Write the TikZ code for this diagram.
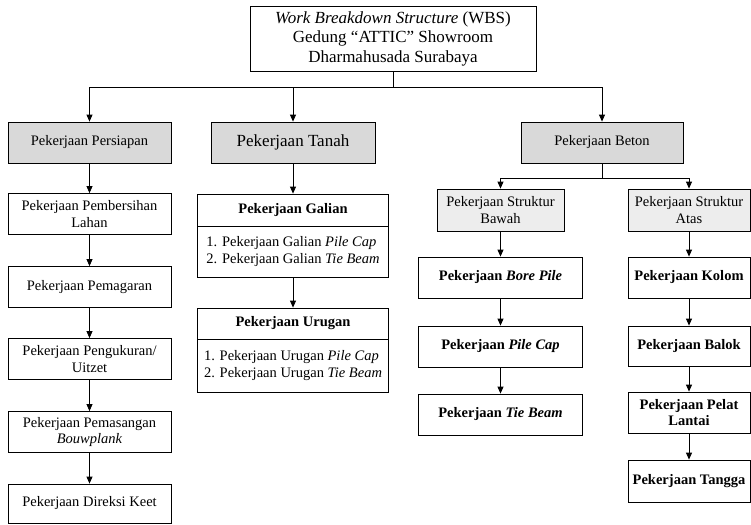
\documentclass[tikz,border=0pt]{standalone}
\usepackage{fontspec}
\setmainfont{Liberation Serif}
\usepackage{tikz}
\usetikzlibrary{positioning,arrows.meta}
\definecolor{headgray}{HTML}{D9D9D9}
\definecolor{subgray}{HTML}{EDEDED}

\begin{document}
\begin{tikzpicture}[font=\fontsize{14.5}{16.7}\selectfont]
    \tikzstyle{box}=[draw, line width=0.8pt, align=center, inner sep=2pt, minimum height=41pt, on grid]
    \tikzstyle{head}=[box, fill=headgray, minimum width=163pt]
    \tikzstyle{struk}=[box, fill=subgray, minimum width=127pt, minimum height=42pt]
    \tikzstyle{task}=[box, minimum width=163pt]
    \tikzstyle{work}=[box, font=\fontsize{14.5}{16.7}\selectfont\bfseries]
    \tikzstyle{arr}=[line width=0.8pt, -{Triangle[length=7pt,width=6pt]}]
    \useasboundingbox (0,0) rectangle (751pt,-524pt);

    \node[box, minimum width=286pt, minimum height=65pt, font=\fontsize{17}{19.5}\selectfont] (wbs) at (393pt,-38.5pt)
        {\textit{Work Breakdown Structure} (WBS)\\Gedung “ATTIC” Showroom\\Dharmahusada Surabaya};

    \node[head] (persiapan) at (89.5pt,-142.5pt) {Pekerjaan Persiapan};
    \node[head, minimum width=164pt, right=203.5pt of persiapan, font=\fontsize{17}{20}\selectfont] (tanah) {Pekerjaan Tanah};
    \node[head, minimum width=162pt, right=309pt of tanah] (beton) {Pekerjaan Beton};

    % persiapan
    \node[task, below=71.5pt of persiapan] (pembersihan) {Pekerjaan Pembersihan\\Lahan};
    \node[task, below=73pt of pembersihan] (pemagaran) {Pekerjaan Pemagaran};
    \node[task, below=72pt of pemagaran] (pengukuran) {Pekerjaan Pengukuran/\\Uitzet};
    \node[task, below=73pt of pengukuran] (bouwplank) {Pekerjaan Pemasangan\\\textit{Bouwplank}};
    \node[task, below=71.5pt of bouwplank, minimum height=39pt] (direksi) {Pekerjaan Direksi Keet};

    % tanah
    \node[work, minimum width=191pt, minimum height=32pt, below=67.5pt of tanah] (galian) {Pekerjaan Galian};
    \node[box, minimum width=191pt, minimum height=51pt, below=41.5pt of galian, align=left] (galianlist)
        {1. Pekerjaan Galian \textit{Pile Cap}\\2. Pekerjaan Galian \textit{Tie Beam}};
    \node[work, minimum width=191pt, minimum height=31pt, below=72pt of galianlist] (urugan) {Pekerjaan Urugan};
    \node[box, minimum width=191pt, minimum height=53pt, below=42pt of urugan, align=left] (uruganlist)
        {1. Pekerjaan Urugan \textit{Pile Cap}\\2. Pekerjaan Urugan \textit{Tie Beam}};

    % beton
    \node[struk, below left=67.5pt and 101.5pt of beton] (bawah) {Pekerjaan Struktur\\Bawah};
    \node[struk, minimum width=122pt, below right=67.5pt and 87pt of beton] (atas) {Pekerjaan Struktur\\Atas};

    \node[work, minimum width=164pt, below=67.5pt of bawah] (borepile) {Pekerjaan \textit{Bore Pile}};
    \node[work, minimum width=164pt, below=69pt of borepile] (pilecap) {Pekerjaan \textit{Pile Cap}};
    \node[work, minimum width=164pt, below=68pt of pilecap] (tiebeam) {Pekerjaan \textit{Tie Beam}};

    \node[work, minimum width=122pt, below=67.5pt of atas] (kolom) {Pekerjaan Kolom};
    \node[work, minimum width=122pt, minimum height=40pt, below=68.5pt of kolom] (balok) {Pekerjaan Balok};
    \node[work, minimum width=122pt, below=66.5pt of balok] (pelat) {Pekerjaan Pelat\\Lantai};
    \node[work, minimum width=122pt, minimum height=42pt, below=68.5pt of pelat] (tangga) {Pekerjaan Tangga};

    \draw[arr] (wbs.south) -- ++(0,-16pt) -| (persiapan.north);
    \draw[arr] (wbs.south) -- ++(0,-16pt) -| (tanah.north);
    \draw[arr] (wbs.south) -- ++(0,-16pt) -| (beton.north);

    \draw[arr] (persiapan) -- (pembersihan);
    \draw[arr] (pembersihan) -- (pemagaran);
    \draw[arr] (pemagaran) -- (pengukuran);
    \draw[arr] (pengukuran) -- (bouwplank);
    \draw[arr] (bouwplank) -- (direksi);

    \draw[arr] (tanah) -- (galian);
    \draw[arr] (galianlist) -- (urugan);

    \draw[arr] (beton.south) -- ++(0,-15pt) -| (bawah.north);
    \draw[arr] (beton.south) -- ++(0,-15pt) -| (atas.north);
    \draw[arr] (bawah) -- (borepile);
    \draw[arr] (borepile) -- (pilecap);
    \draw[arr] (pilecap) -- (tiebeam);
    \draw[arr] (atas) -- (kolom);
    \draw[arr] (kolom) -- (balok);
    \draw[arr] (balok) -- (pelat);
    \draw[arr] (pelat) -- (tangga);
\end{tikzpicture}
\end{document}
